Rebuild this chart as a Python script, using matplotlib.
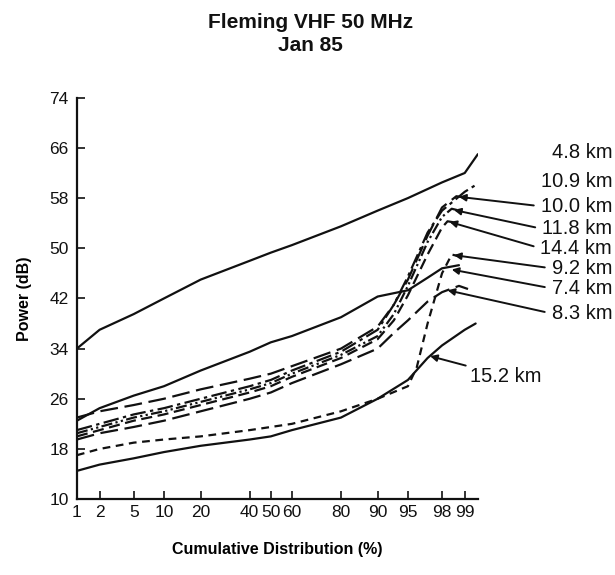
import numpy as np
import matplotlib
matplotlib.use("Agg")
import matplotlib.pyplot as plt
from matplotlib.transforms import blended_transform_factory
from math import erf, sqrt

plt.rcParams['font.family'] = ['Liberation Sans', 'DejaVu Sans']

# cumulative distribution (%) and power (dB)
pct_48 = [1, 2, 5, 10, 20, 40, 50, 60, 80, 90, 95, 98, 99, 99.35]
db_48 = [34, 37, 39.5, 42, 45, 48, 49.3, 50.5, 53.5, 56, 58, 60.5, 62, 65]

pct_109 = [1, 2, 5, 10, 20, 40, 50, 60, 80, 90, 93, 95, 97, 98, 99, 99.35]
db_109 = [21, 22, 23.5, 24.5, 26, 28, 29, 30.5, 33.5, 37, 41, 45.5, 52.5, 56, 59, 60.3]

pct_100 = [1, 2, 5, 10, 20, 40, 50, 60, 80, 90, 93, 95, 97, 98, 98.7, 99.1]
db_100 = [23, 24, 25, 26, 27.5, 29.2, 30, 31.2, 34, 37.5, 41, 45, 52, 56.5, 58.3, 58]

pct_118 = [1, 2, 5, 10, 20, 40, 50, 60, 80, 90, 93, 95, 97, 98, 98.5, 99]
db_118 = [20.5, 21.5, 23, 24, 25.5, 27.5, 28.5, 30, 33, 36, 39.5, 44, 51, 55, 56.3, 55.8]

pct_144 = [1, 2, 5, 10, 20, 40, 50, 60, 80, 90, 93, 95, 97, 98, 98.3, 98.8]
db_144 = [20, 21, 22.5, 23.5, 25, 27, 28, 29.5, 32.5, 35.5, 38.5, 42.5, 49, 53.3, 54.3, 54]

pct_92 = [1, 2, 5, 10, 20, 40, 50, 60, 80, 90, 95, 96, 97, 98, 98.5, 99]
db_92 = [17, 18, 19, 19.5, 20, 21, 21.5, 22, 24, 26, 28, 31, 38, 46, 49, 48.5]

pct_74 = [1, 2, 5, 10, 20, 40, 50, 60, 80, 90, 95, 97, 98, 98.8]
db_74 = [22.5, 24.5, 26.5, 28, 30.5, 33.5, 35, 36, 39, 42.3, 43.3, 45.3, 46.8, 47.3]

pct_83 = [1, 2, 5, 10, 20, 40, 50, 60, 80, 90, 93, 95, 97, 98, 98.8, 99.1]
db_83 = [19.5, 20.5, 21.5, 22.5, 24, 26, 27, 28.5, 31.5, 34, 36.5, 38.5, 41.5, 43, 44, 43.5]

pct_152 = [1, 2, 5, 10, 20, 40, 50, 60, 80, 90, 95, 97, 98, 99, 99.3]
db_152 = [14.5, 15.5, 16.5, 17.5, 18.5, 19.5, 20, 21, 23, 26, 29, 32.5, 34.5, 37, 38]

x_ticks = [1, 2, 5, 10, 20, 40, 50, 60, 80, 90, 95, 98, 99]
y_ticks = [10, 18, 26, 34, 42, 50, 58, 66, 74]

# normal probability scale
_z = np.linspace(-6, 6, 24001)
_p = np.array([0.5 * (1 + erf(v / sqrt(2))) for v in _z]) * 100


def _fwd(x):
    return np.interp(np.asarray(x, float), _p, _z)


def _inv(z):
    return np.interp(np.asarray(z, float), _z, _p)


K = '#111111'
curves = [
    # pct, db, dashes, label, label y (dB), arrow target (pct, dB)
    (pct_48, db_48, None, '4.8 km', 65.2, None),
    (pct_109, db_109, (7, 2, 1.5, 2), '10.9 km', 60.6, None),
    (pct_100, db_100, (8, 3), '10.0 km', 56.7, (98.8, 58.2)),
    (pct_118, db_118, (5, 1.5, 1, 1.5, 1, 1.5), '11.8 km', 53.1, (98.6, 56.1)),
    (pct_144, db_144, (5, 2.5), '14.4 km', 50.0, (98.4, 54.2)),
    (pct_92, db_92, (3.5, 2.5), '9.2 km', 46.8, (98.6, 48.9)),
    (pct_74, db_74, None, '7.4 km', 43.6, (98.5, 46.6)),
    (pct_83, db_83, (8, 3), '8.3 km', 39.6, (98.3, 43.3)),
    (pct_152, db_152, None, '15.2 km', 29.6, (97.2, 32.8)),
]

fig = plt.figure(figsize=(6.15, 5.75), dpi=100)
ax = fig.add_axes([0.125, 0.132, 0.652, 0.698])
ax.set_xscale('function', functions=(_fwd, _inv))

for pct, db, dashes, lab, ly, tgt in curves:
    ln, = ax.plot(pct, db, color=K, lw=1.6, solid_capstyle='round')
    if dashes is not None:
        ln.set_dashes(dashes)

trans = blended_transform_factory(ax.transAxes, ax.transData)
fs = 14.5
for pct, db, dashes, lab, ly, tgt in curves:
    if lab == '15.2 km':
        ax.annotate(lab, xy=tgt, xytext=(0.98, ly), textcoords=trans,
                    ha='left', va='center', fontsize=fs, color=K,
                    annotation_clip=False,
                    arrowprops=dict(arrowstyle='-|>', color=K, lw=1.4,
                                    mutation_scale=10, shrinkA=1, shrinkB=0))
    elif tgt is None:
        ax.text(1.335, ly, lab, transform=trans, ha='right', va='center',
                fontsize=fs, color=K)
    else:
        ax.annotate(lab, xy=tgt, xytext=(1.335, ly), textcoords=trans,
                    ha='right', va='center', fontsize=fs, color=K,
                    annotation_clip=False,
                    arrowprops=dict(arrowstyle='-|>', color=K, lw=1.4,
                                    mutation_scale=10, shrinkA=3,
                                    shrinkB=0, relpos=(0, 0.5)))

ax.set_xlim(1, 99.35)
ax.set_ylim(10, 74)
ax.set_xticks(x_ticks)
ax.set_xticklabels([str(v) for v in x_ticks])
ax.xaxis.set_minor_locator(matplotlib.ticker.NullLocator())
ax.set_yticks(y_ticks)
ax.tick_params(direction='in', length=6, width=1.2, labelsize=12.5, colors=K)
ax.tick_params(axis='y', pad=6)
ax.tick_params(axis='x', pad=4)
for s in ('top', 'right'):
    ax.spines[s].set_visible(False)
for s in ('left', 'bottom'):
    ax.spines[s].set_linewidth(1.6)
    ax.spines[s].set_color(K)

ax.set_ylabel('Power (dB)', fontsize=11.5, fontweight='bold', labelpad=12)
ax.set_xlabel('Cumulative Distribution (%)', fontsize=11.5, fontweight='bold', labelpad=16)
fig.text(0.505, 0.978, 'Fleming VHF 50 MHz\nJan 85', ha='center', va='top',
         fontsize=15, fontweight='bold', linespacing=1.3, color=K)

fig.savefig('out.png', dpi=100)
